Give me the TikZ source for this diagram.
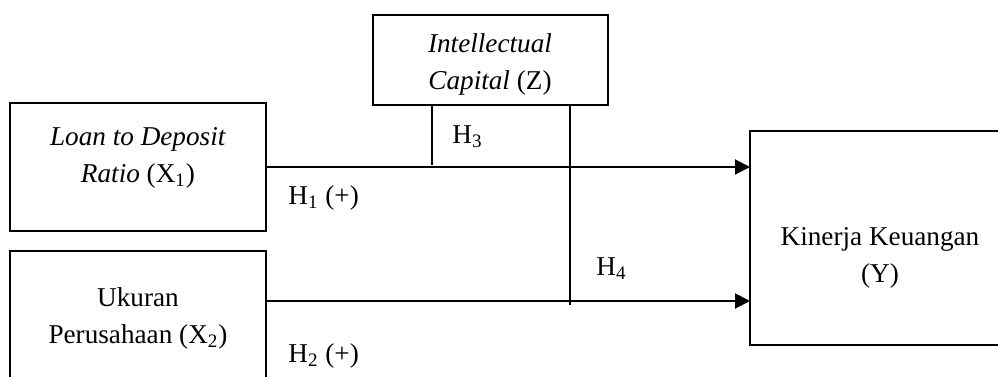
\documentclass[tikz,border=0pt]{standalone}
\usepackage{fontspec}
\setmainfont{Liberation Serif}
\usetikzlibrary{arrows.meta, positioning}

\begin{document}
\begin{tikzpicture}[
        x=0.5pt, y=-0.5pt,
        font=\fontsize{13.6}{18.5}\selectfont,
        box/.style={
            draw,
            line width=1pt,
            inner sep=0pt,
            outer sep=0pt,
            anchor=north west
        },
        boxtext/.style={
            align=center,
            inner sep=0pt
        },
        arrow/.style={
            -{Triangle[length=7.5pt, width=7.5pt]},
            line width=1pt
        },
        link/.style={line width=1pt},
        hyp/.style={anchor=base west, inner sep=0pt}
    ]
    \clip (0,0) rectangle (998,376);

    % boxes
    \node[box, minimum width=117.5pt, minimum height=45pt] (z) at (373,15) {};
    \node[box, minimum width=128pt, minimum height=64pt] (x1) at (10,103) {};
    \node[box, minimum width=128pt, minimum height=70pt] (x2) at (10,251) {};
    \node[box, minimum width=135pt, minimum height=107pt] (y) at (750,131) {};

    \node[boxtext] (ztxt) at (490,64) {\textit{Intellectual}\\\textit{Capital} (Z)};
    \node[boxtext] (x1txt) at (138,158) {\textit{Loan to Deposit}\\\textit{Ratio} (X\textsubscript{1})};
    \node[boxtext] (x2txt) at (138,318) {Ukuran\\Perusahaan (X\textsubscript{2})};
    \node[boxtext] (ytxt) at (880,258) {Kinerja Keuangan\\(Y)};

    % paths
    \draw[arrow] (x1.east) -- (x1.east -| y.west);
    \draw[arrow] ([yshift=10pt]x2.east) -- ([yshift=10pt]x2.east -| y.west);

    \coordinate (m1) at (432,165);
    \coordinate (m2) at (570,305);
    \draw[link] (z.south -| m1) -- (m1);
    \draw[link] (z.south -| m2) -- (m2);

    % hypotheses
    \node[hyp] (h1) at (288,204) {H\textsubscript{1} (+)};
    \node[hyp] (h2) at (288,362) {H\textsubscript{2} (+)};
    \node[hyp] (h3) at (452,143) {H\textsubscript{3}};
    \node[hyp] (h4) at (596,275) {H\textsubscript{4}};

\end{tikzpicture}
\end{document}
